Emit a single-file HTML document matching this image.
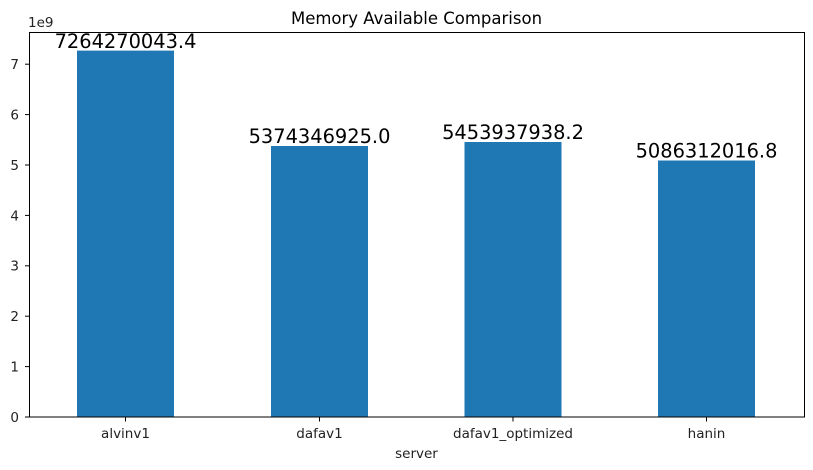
<!DOCTYPE html>
<html><head><meta charset="utf-8"><style>
html,body{margin:0;padding:0;background:#fff;}
svg{display:block;font-family:"DejaVu Sans","Liberation Sans",sans-serif;}
</style></head><body>
<svg width="813" height="470" viewBox="0 0 813 470" xmlns="http://www.w3.org/2000/svg">
<rect width="813" height="470" fill="#fff"/>
<text x="416.5" y="24" font-size="16.5" text-anchor="middle" fill="#000">Memory Available Comparison</text>
<text x="28" y="27" font-size="13.5" fill="#222">1e9</text>
<g fill="#1f77b4">
<rect x="77" y="50.6" width="97" height="366.4"/>
<rect x="271" y="146" width="97" height="271"/>
<rect x="464.5" y="142" width="97" height="275"/>
<rect x="658" y="160.5" width="97" height="256.5"/>
</g>
<rect x="29.5" y="32.5" width="775" height="384.5" fill="none" stroke="#000" stroke-width="1"/>
<g stroke="#000" stroke-width="1">
<line x1="25" y1="417" x2="29.5" y2="417"/>
<line x1="25" y1="366.6" x2="29.5" y2="366.6"/>
<line x1="25" y1="316.2" x2="29.5" y2="316.2"/>
<line x1="25" y1="265.8" x2="29.5" y2="265.8"/>
<line x1="25" y1="215.4" x2="29.5" y2="215.4"/>
<line x1="25" y1="165" x2="29.5" y2="165"/>
<line x1="25" y1="114.6" x2="29.5" y2="114.6"/>
<line x1="25" y1="64.2" x2="29.5" y2="64.2"/>
<line x1="125.5" y1="417" x2="125.5" y2="421.5"/>
<line x1="319.5" y1="417" x2="319.5" y2="421.5"/>
<line x1="513" y1="417" x2="513" y2="421.5"/>
<line x1="706.5" y1="417" x2="706.5" y2="421.5"/>
</g>
<g font-size="13.5" fill="#222" text-anchor="end">
<text x="19" y="422">0</text>
<text x="19" y="371.5">1</text>
<text x="19" y="321">2</text>
<text x="19" y="270.5">3</text>
<text x="19" y="220.5">4</text>
<text x="19" y="170">5</text>
<text x="19" y="119.5">6</text>
<text x="19" y="69">7</text>
</g>
<g font-size="13.5" fill="#222" text-anchor="middle">
<text x="125.5" y="438">alvinv1</text>
<text x="319.5" y="438">dafav1</text>
<text x="513" y="438">dafav1_optimized</text>
<text x="706.5" y="438">hanin</text>
<text x="416.5" y="458">server</text>
</g>
<g font-size="19.4" fill="#000" text-anchor="middle">
<text x="125.5" y="48">7264270043.4</text>
<text x="319.5" y="143">5374346925.0</text>
<text x="513" y="139">5453937938.2</text>
<text x="706.5" y="157.5">5086312016.8</text>
</g>
</svg>
</body></html>
